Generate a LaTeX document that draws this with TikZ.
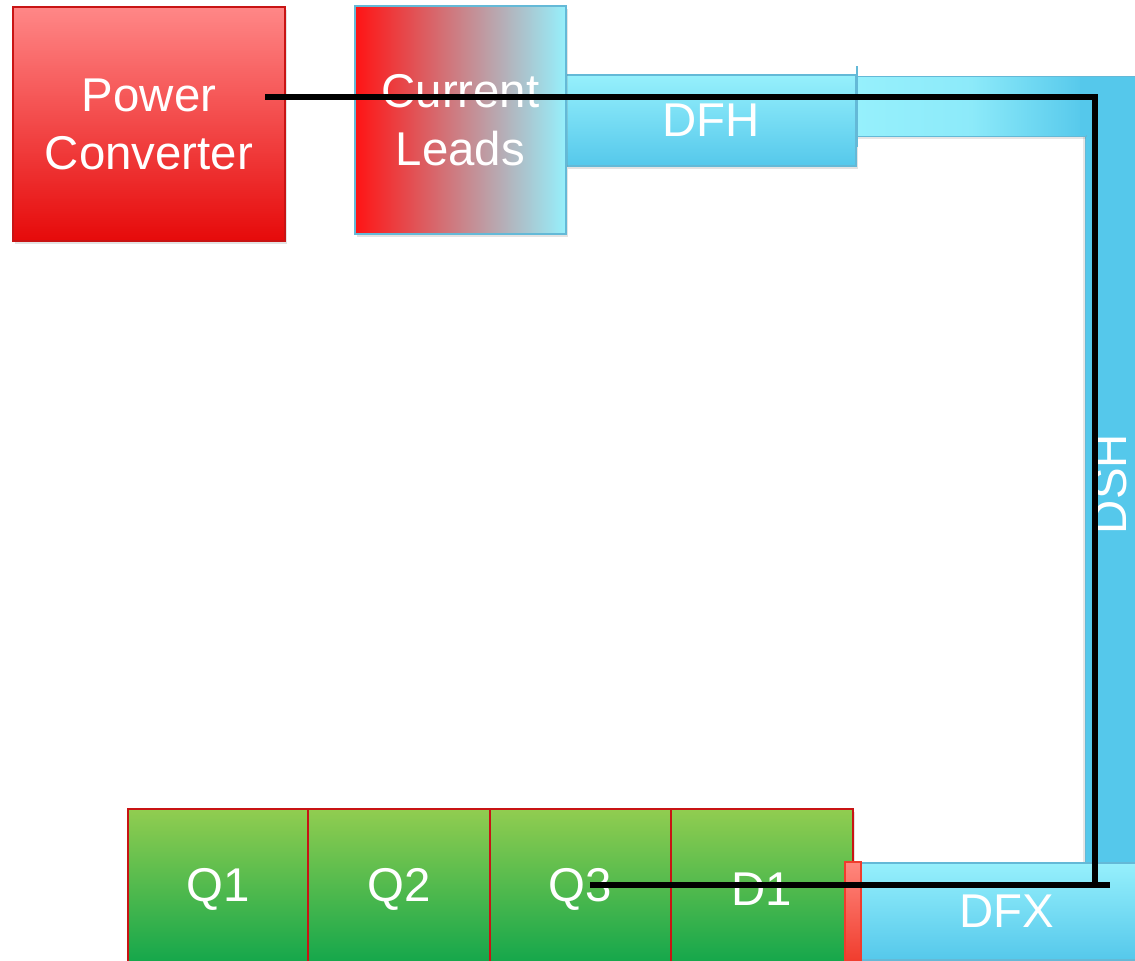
\documentclass[tikz,border=0pt]{standalone}
\usepackage{fontspec}
\setmainfont{Liberation Sans}
\usetikzlibrary{shadows}
\definecolor{cyanL}{RGB}{150,240,252}
\definecolor{cyanD}{RGB}{85,200,235}
\definecolor{cyanB}{RGB}{100,185,215}
\definecolor{redL}{RGB}{255,135,135}
\definecolor{redD}{RGB}{230,10,10}
\definecolor{redB}{RGB}{200,20,20}
\definecolor{greenL}{RGB}{145,205,80}
\definecolor{greenD}{RGB}{15,165,75}
\definecolor{leadR}{RGB}{255,20,20}
\definecolor{barL}{RGB}{255,135,125}
\definecolor{barD}{RGB}{240,60,45}
\definecolor{magB}{RGB}{200,20,20}
\begin{document}
\begin{tikzpicture}[x=0.5pt,y=-0.5pt,
  box/.style={draw, line width=0.6pt, inner sep=0pt, text=white,
    font=\fontsize{23.7}{29}\selectfont, align=center,
    drop shadow={opacity=0.22, shadow xshift=1pt, shadow yshift=-1.5pt}},
  redbox/.style={box, draw=redB, top color=redL, bottom color=redD},
  leadbox/.style={box, draw=cyanB, left color=leadR, right color=cyanL},
  pipebox/.style={box, draw=cyanB, top color=cyanL, bottom color=cyanD},
  magnet/.style={box, draw=magB, top color=greenL, bottom color=greenD, drop shadow={opacity=0}},
  barbox/.style={draw=barD, line width=0.6pt, inner sep=0pt, top color=barL, bottom color=barD},
  pipefill/.style={draw=cyanB, line width=0.4pt},
  cable/.style={line width=2.7pt, black},
  tick/.style={cyanB, line width=1pt},
  lbl/.style={text=white, font=\fontsize{23.7}{29}\selectfont, inner sep=0pt}
]
\useasboundingbox (0,0) rectangle (1135,960);
% vertical pipe (DSH)
\path[pipefill, fill=cyanD, drop shadow={opacity=0.2, shadow xshift=-1pt, shadow yshift=-1pt}] (1085,76) rectangle (1140,865);
% top horizontal pipe
\path[pipefill, left color=cyanL, right color=cyanD, middle color=cyanL!85!cyanD,
  drop shadow={opacity=0.2, shadow xshift=0pt, shadow yshift=-1.5pt}] (856,76) rectangle (1086,136);
\fill[cyanD] (1080,77) rectangle (1140,135);
\node[lbl, rotate=90] (dshlbl) at (1110,484) {DSH};
% boxes
\node[pipebox, minimum width=145pt, minimum height=45.5pt] (dfh) at (711,120.5) {DFH};
\draw[tick] (857,66) -- (857,147);
\node[leadbox, minimum width=105.5pt, minimum height=114pt] (cl) at (460.5,120) {Current\\Leads};
\node[redbox, minimum width=136pt, minimum height=117pt] (pc) at (149,124) {Power\\Converter};
% magnets
\node[magnet, minimum width=90pt, minimum height=80pt] (q1) at (218,889) {Q1};
\node[magnet, minimum width=91pt, minimum height=80pt] (q2) at (399,889) {Q2};
\node[magnet, minimum width=90.5pt, minimum height=80pt] (q3) at (580.5,889) {Q3};
\node[magnet, minimum width=91pt, minimum height=80pt] (d1) at (762,889) {D1};
% DFX
\node[pipebox, minimum width=146pt, minimum height=48.5pt, drop shadow={opacity=0}] (dfx) at (1007,911.5) {DFX};
\node[barbox, minimum width=8pt, minimum height=50pt] (bar) at (853,912) {};
% cable
\coordinate (pcout) at (265,97);
\coordinate (c1) at (1095,97);
\coordinate (c2) at (1095,885);
\coordinate (dfxend) at (1110,885);
\coordinate (q3in) at (590,885);
\draw[cable] (pcout) -- (c1) -- (c2);
\draw[cable] (q3in) -- (dfxend);
\end{tikzpicture}
\end{document}
